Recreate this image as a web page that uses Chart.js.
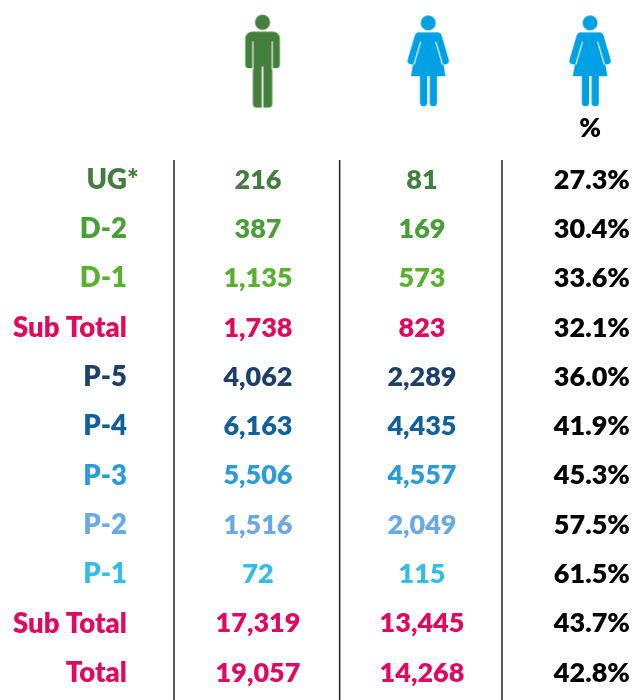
<!DOCTYPE html>
<html>
<head>
<meta charset="utf-8">
<title>Staff by grade and gender</title>
<script src="https://cdn.jsdelivr.net/npm/chart.js@4"></script>
<style>
	html, body { margin: 0; padding: 0; background: #fff; }
	canvas { display: block; }
</style>
</head>
<body>
<canvas id="staffChart" width="635" height="700"></canvas>
<script>
const grades = ['UG*', 'D-2', 'D-1', 'Sub Total', 'P-5', 'P-4', 'P-3', 'P-2', 'P-1', 'Sub Total', 'Total'];
const men = [216, 387, 1135, 1738, 4062, 6163, 5506, 1516, 72, 17319, 19057];
const women = [81, 169, 573, 823, 2289, 4435, 4557, 2049, 115, 13445, 14268];
const womenShare = ['27.3%', '30.4%', '33.6%', '32.1%', '36.0%', '41.9%', '45.3%', '57.5%', '61.5%', '43.7%', '42.8%'];
const gradeColors = ['#437d3f', '#4a9e36', '#5ab031', '#df0a5e', '#1f4066', '#0e6199', '#2c9bd9', '#6aaae0', '#36bce8', '#df0a5e', '#df0a5e'];

const FONT = 'Lato, sans-serif';
const MAN_COLOR = '#457f3e';
const WOMAN_COLOR = '#00a0e4';

// icons are drawn once and handed to chart.js as point styles
function makeIcon(drawFn, color) {
	const c = document.createElement('canvas');
	c.width = 46;
	c.height = 96;
	const g = c.getContext('2d');
	g.translate(23, 48);
	g.fillStyle = color;
	g.strokeStyle = color;
	drawFn(g);
	return c;
}

function drawMan(g) {
	g.translate(0, -46.3);
	g.beginPath();
	g.arc(0, 7.4, 7.6, 0, Math.PI * 2);
	g.fill();
	g.beginPath();
	g.roundRect(-17.3, 16.7, 34.6, 36.5, [7, 7, 3.5, 3.5]);
	g.fill();
	g.beginPath();
	g.roundRect(-9.7, 20, 19.4, 72.7, [0, 0, 4, 4]);
	g.fill();
	g.fillStyle = '#fff';
	g.fillRect(-10.2, 26.5, 1.1, 28);
	g.fillRect(9.1, 26.5, 1.1, 28);
	g.fillRect(-0.8, 51.7, 1.6, 42);
}

function drawWoman(g) {
	g.translate(0, -45);
	g.beginPath();
	g.arc(0, 6.8, 7.5, 0, Math.PI * 2);
	g.fill();
	g.lineCap = 'round';
	g.lineWidth = 7.4;
	[-1, 1].forEach(function(side) {
		g.beginPath();
		g.moveTo(side * 9.8, 20);
		g.lineTo(side * 17, 44.5);
		g.stroke();
	});
	g.beginPath();
	g.moveTo(-9.5, 16.3);
	g.lineTo(9.5, 16.3);
	g.lineTo(17.3, 60);
	g.lineTo(-17.3, 60);
	g.closePath();
	g.fill();
	g.beginPath();
	g.roundRect(-8.3, 58, 7.3, 32, [0, 0, 3.6, 3.6]);
	g.roundRect(1.5, 58, 7.3, 32, [0, 0, 3.6, 3.6]);
	g.fill();
	g.strokeStyle = '#fff';
	g.lineCap = 'butt';
	g.lineWidth = 1.1;
	[-1, 1].forEach(function(side) {
		g.beginPath();
		g.moveTo(side * 7.6, 25.7);
		g.lineTo(side * 14.3, 48.5);
		g.stroke();
	});
}

function rowPoints(xPos, values) {
	return values.map(function(v, i) {
		return { x: xPos, y: i, text: typeof v === 'number' ? v.toLocaleString('en-US') : v };
	});
}

function textSeries(label, xPos, values, font, colors, align) {
	return {
		label: label,
		data: rowPoints(xPos, values),
		pointRadius: 0,
		showLine: false,
		textFont: font,
		textColors: colors,
		textAlign: align || 'center'
	};
}

function separator(xPos) {
	return {
		label: 'separator',
		data: [{ x: xPos, y: -0.406 }, { x: xPos, y: 10.55 }],
		showLine: true,
		pointRadius: 0,
		borderColor: '#222',
		borderWidth: 1.5
	};
}

function iconSeries(label, xPos, icon) {
	return {
		label: label,
		data: [{ x: xPos, y: -2.41 }],
		pointStyle: icon,
		pointRadius: 10,
		showLine: false
	};
}

// writes the text of each point where the scales put it
const textLabels = {
	id: 'textLabels',
	afterDatasetsDraw: function(chart) {
		const ctx = chart.ctx;
		chart.data.datasets.forEach(function(ds, d) {
			if (!ds.textFont) return;
			const pts = chart.getDatasetMeta(d).data;
			ctx.save();
			ctx.font = ds.textFont;
			ctx.textAlign = ds.textAlign;
			ctx.textBaseline = 'middle';
			pts.forEach(function(pt, i) {
				const text = ds.data[i].text;
				let x = pt.x;
				// the asterisk hangs past the right edge of the labels
				if (ds.textAlign === 'right' && text.endsWith('*')) x += ctx.measureText('*').width;
				ctx.fillStyle = Array.isArray(ds.textColors) ? ds.textColors[i] : ds.textColors;
				ctx.fillText(text, x, pt.y);
			});
			ctx.restore();
		});
	}
};

const ctx = document.getElementById('staffChart').getContext('2d');
const myChart = new Chart(ctx, {
	type: 'scatter',
	data: {
		datasets: [
			separator(0),
			separator(1.01),
			separator(2),
			iconSeries('Men', 0.54, makeIcon(drawMan, MAN_COLOR)),
			iconSeries('Women', 1.55, makeIcon(drawWoman, WOMAN_COLOR)),
			iconSeries('Women %', 2.537, makeIcon(drawWoman, WOMAN_COLOR)),
			{
				label: '% header',
				data: [{ x: 2.537, y: -1.05, text: '%' }],
				pointRadius: 0,
				textFont: '800 26px ' + FONT,
				textColors: '#000',
				textAlign: 'center'
			},
			textSeries('Grade', -0.287, grades, '800 27.5px ' + FONT, gradeColors, 'right'),
			textSeries('Men', 0.512, men, '800 27px ' + FONT, gradeColors),
			textSeries('Women', 1.512, women, '800 27px ' + FONT, gradeColors),
			textSeries('Women share', 2.548, womenShare, '800 27px ' + FONT, '#000')
		]
	},
	options: {
		responsive: false,
		animation: false,
		layout: { padding: 0, autoPadding: false },
		plugins: {
			legend: { display: false },
			tooltip: { enabled: false }
		},
		scales: {
			x: { type: 'linear', display: false, min: -1.061, max: 2.811 },
			y: { type: 'linear', display: false, reverse: true, min: -3.651, max: 10.548 }
		}
	},
	plugins: [textLabels]
});
</script>
</body>
</html>
